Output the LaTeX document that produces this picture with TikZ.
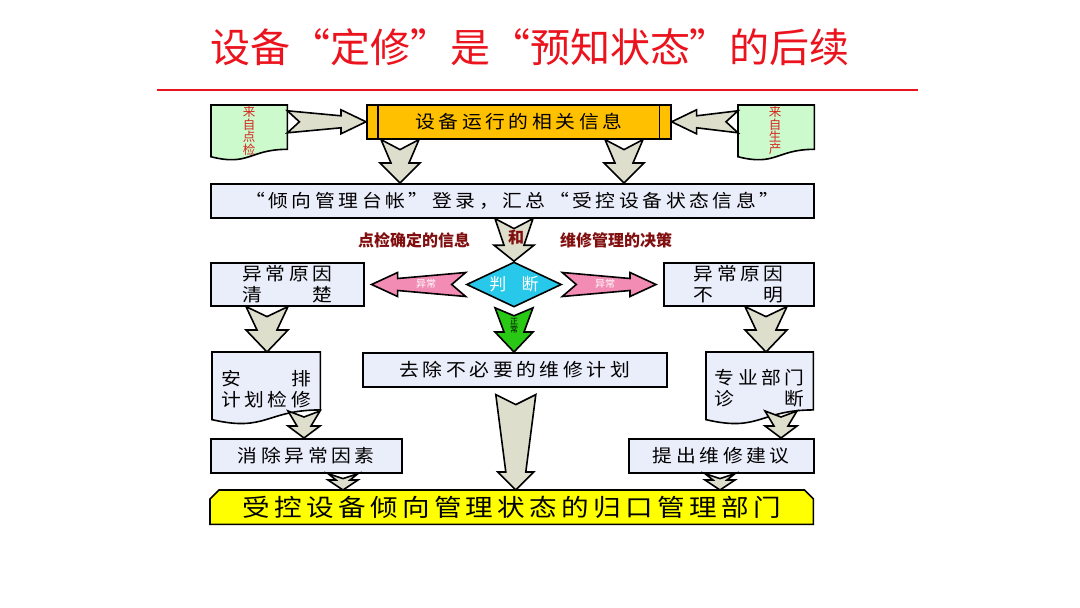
\documentclass[tikz,border=0pt]{standalone}
\usepackage{fontspec}
\usetikzlibrary{calc,shapes.geometric}
\newfontfamily\ttl{Noto Sans CJK SC}[RawFeature=+fwid]
\newfontfamily\bx{Noto Sans CJK SC}[FakeStretch=1.1,LetterSpace=20,RawFeature=+fwid]
\newfontfamily\ybx{Noto Sans CJK SC}[FakeStretch=1.15,LetterSpace=18]
\newfontfamily\sm{Noto Sans CJK SC}
\definecolor{titlered}{RGB}{235,20,30}
\definecolor{orangeF}{RGB}{255,192,0}
\definecolor{greenF}{RGB}{204,250,204}
\definecolor{lav}{RGB}{234,237,250}
\definecolor{beige}{RGB}{222,222,205}
\definecolor{cyanF}{RGB}{40,200,235}
\definecolor{pinkF}{RGB}{242,140,180}
\definecolor{greenA}{RGB}{40,200,20}
\definecolor{yellowF}{RGB}{255,255,0}
\definecolor{darkred}{RGB}{130,15,15}
\definecolor{docred}{RGB}{210,40,30}
\pgfdeclarelayer{back}
\pgfdeclarelayer{bg}
\pgfsetlayers{back,bg,main}
\newlength\jw
\newcommand\jus[3]{\settowidth\jw{#1}\makebox[\jw]{#2\hfill#3}}
% block arrow: [style]{start}{end}{tail half}{neck half}{head half}{head length}{notch}
\newcommand\blk[8][]{%
  \path[blkarrow,#1] let \p1=#2, \p2=#3,
    \n1={atan2(\y2-\y1,\x2-\x1)}, \n2={veclen(\x2-\x1,\y2-\y1)}, \n3={\n2-#7} in
    ($(\p1)+(\n1:#8)$) -- ($(\p1)+(\n1+90:#4)$) -- ($(\p1)+(\n1:\n3)+(\n1+90:#5)$)
    -- ($(\p1)+(\n1:\n3)+(\n1+90:#6)$) -- (\p2) -- ($(\p1)+(\n1:\n3)+(\n1-90:#6)$)
    -- ($(\p1)+(\n1:\n3)+(\n1-90:#5)$) -- ($(\p1)+(\n1-90:#4)$) -- cycle;}
\newcommand\docpath[2]{%
  \begin{pgfonlayer}{bg}
  \path[docstyle,#2] let \p1=(#1.north west), \p2=(#1.south east), \n1={\y2-\y1} in
    (\p1) -- (\x2,\y1) -- (\x2,{\y1+0.8*\n1})
    .. controls ({0.5*(\x1+\x2)},{\y1+0.8*\n1}) and ({0.5*(\x1+\x2)},{\y1+1.11*\n1}) ..
    (\x1,{\y1+0.934*\n1}) -- cycle;
  \end{pgfonlayer}}
\tikzset{
  blkarrow/.style={draw=black, line width=1.6pt, line join=miter, fill=beige},
  boxtxt/.style={font=\bx\fontsize{18}{21}\selectfont, text=black, align=center},
  box/.style={draw=black, line width=1.6pt, fill=lav, inner sep=0pt, anchor=north west, boxtxt},
  docnode/.style={inner sep=0pt, anchor=north west},
  docstyle/.style={draw=black, line width=1.6pt, fill=lav},
  vtxt/.style={font=\sm\fontsize{12.5}{11}\selectfont, text=docred, align=center, inner sep=0pt},
  lbl/.style={font=\sm\bfseries\fontsize{16}{18}\selectfont, text=darkred, inner sep=0pt},
  small/.style={font=\sm\fontsize{10}{10}\selectfont, inner sep=0pt, align=center},
}
\begin{document}
\begin{tikzpicture}[x=1pt,y=1pt]
\useasboundingbox (0,0) rectangle (1080,-608);
\begin{pgfonlayer}{back}
\fill[white] (0,0) rectangle (1080,-608);
\end{pgfonlayer}
% title
\node[font=\ttl\fontsize{40}{44}\selectfont, text=titlered, inner sep=0pt] (title) at (530,-47) {设备“定修”是“预知状态”的后续};
\coordinate (rl1) at (157,-90);
\coordinate (rl2) at (918,-90);
\draw[titlered, line width=2.5pt] (rl1) -- (rl2);
% top row
\node[box, fill=orangeF, minimum width=304pt, minimum height=34pt] (info) at (366,-104) {设备运行的相关信息};
\draw[line width=1.6pt] ($(info.north west)+(12,0)$) -- ($(info.south west)+(12,0)$);
\draw[line width=1.6pt] ($(info.north east)+(-12,0)$) -- ($(info.south east)+(-12,0)$);
\node[docnode, minimum width=76pt, minimum height=55pt] (dl) at (211,-105) {};
\docpath{dl}{fill=greenF}
\node[vtxt] (dlt) at ($(dl.center)+(0,2)$) {来\\自\\点\\检};
\node[docnode, minimum width=76pt, minimum height=55pt] (dr) at (738,-105) {};
\docpath{dr}{fill=greenF}
\node[vtxt] (drt) at ($(dr.center)+(-1,2)$) {来\\自\\生\\产};
\blk{(dl.east |- info.west)}{(info.west)}{11}{6}{12}{25}{12}
\blk{(dr.west |- info.east)}{(info.east)}{11}{6}{12}{25}{12}
% ledger
\node[box, minimum width=603pt, minimum height=34pt] (ledger) at (210,-183) {“倾向管理台帐”登录，汇总“受控设备状态信息”};
\blk{(400,0 |- info.south)}{(400,0 |- ledger.north)}{19}{9}{20}{20}{10}
\blk{(624,0 |- info.south)}{(624,0 |- ledger.north)}{19}{9}{20}{20}{10}
% judge
\node[diamond, aspect=2, draw=black, line width=1.6pt, fill=cyanF, minimum width=95pt, minimum height=45pt, inner sep=0pt, text=white, font=\sm\fontsize{17}{17}\selectfont] (judge) at (514,-284.5) {判\hspace{0.9em}断};
\blk{(judge.north |- ledger.south)}{(judge.north)}{19}{10}{20}{16}{10}
\node[lbl] (l1) at (414,-240) {点检确定的信息};
\node[lbl] (l2) at (516,-237) {和};
\node[lbl] (l3) at (616,-240) {维修管理的决策};
% side boxes
\node[box, minimum width=153pt, minimum height=43pt] (lbox) at (210,-262) {异常原因\\\jus{异常原因}{清}{楚}};
\node[box, minimum width=150pt, minimum height=43pt] (rbox) at (663,-262) {异常原因\\\jus{异常原因}{不}{明}};
\coordinate (pl) at ($(lbox.east)+(7,0)$);
\coordinate (pr) at ($(rbox.west)+(-7,0)$);
\blk[fill=pinkF]{(judge.west)}{(pl |- judge.west)}{12}{6}{12}{26}{14}
\blk[fill=pinkF]{(judge.east)}{(pr |- judge.east)}{12}{6}{12}{26}{14}
\node[small, text=white] (ab1) at (426,-284) {异常};
\node[small, text=white] (ab2) at (605,-284) {异常};
% middle row
\node[box, minimum width=304pt, minimum height=34pt] (mbox) at (362,-352) {去除不必要的维修计划};
\blk[fill=greenA]{(judge.south)}{(judge.south |- mbox.north)}{19}{10}{19}{20}{8}
\node[small, font=\sm\fontsize{8}{8}\selectfont, text=black] (zc) at (514,-326) {正\\常};
\node[docnode, minimum width=108pt, minimum height=72pt] (ld) at (212,-352) {};
\docpath{ld}{}
\node[boxtxt, inner sep=0pt] (ldt) at ($(ld.center)+(0,-1)$) {\jus{计划检修}{安}{排}\\计划检修};
\node[docnode, minimum width=107pt, minimum height=72pt] (rd) at (706,-352) {};
\docpath{rd}{}
\node[boxtxt, inner sep=0pt] (rdt) at ($(rd.center)+(0,0)$) {专业部门\\\jus{专业部门}{诊}{断}};
\blk{(267,0 |- lbox.south)}{(267,0 |- ld.north)}{21}{10}{21}{22}{10}
\blk{(766,0 |- rbox.south)}{(766,0 |- rd.north)}{21}{10}{21}{22}{10}
% lower boxes
\node[box, minimum width=191pt, minimum height=34pt] (ebox) at (210,-438) {消除异常因素};
\node[box, minimum width=185pt, minimum height=34pt] (pbox) at (628,-438) {提出维修建议};
\coordinate (s11) at (304,-411);
\coordinate (s12) at (781,-411);
\blk{(s11)}{(s11 |- ebox.north)}{16}{7}{16}{12}{6}
\blk{(s12)}{(s12 |- pbox.north)}{16}{7}{16}{12}{6}
% bottom
\node[docnode, minimum width=603pt, minimum height=34pt, font=\ybx\fontsize{24}{26}\selectfont] (ybox) at (210,-490) {受控设备倾向管理状态的归口管理部门};
\begin{pgfonlayer}{bg}
\path[draw=black, line width=1.6pt, fill=yellowF] let \p1=(ybox.north west), \p2=(ybox.south east) in
  (\x1,\y2) -- (\x1,{\y1-9}) -- ({\x1+9},\y1) -- ({\x2-9},\y1) -- (\x2,{\y1-9}) -- (\x2,\y2) -- cycle;
\end{pgfonlayer}
\coordinate (s13) at ($(mbox.south)+(1,-7)$);
\blk{(s13)}{(s13 |- ybox.north)}{20}{10}{18}{18}{10}
\blk{(343,0 |- ebox.south)}{(343,0 |- ybox.north)}{15}{7}{15}{10}{5}
\blk{(720,0 |- pbox.south)}{(720,0 |- ybox.north)}{15}{7}{15}{10}{5}
\end{tikzpicture}
\end{document}
